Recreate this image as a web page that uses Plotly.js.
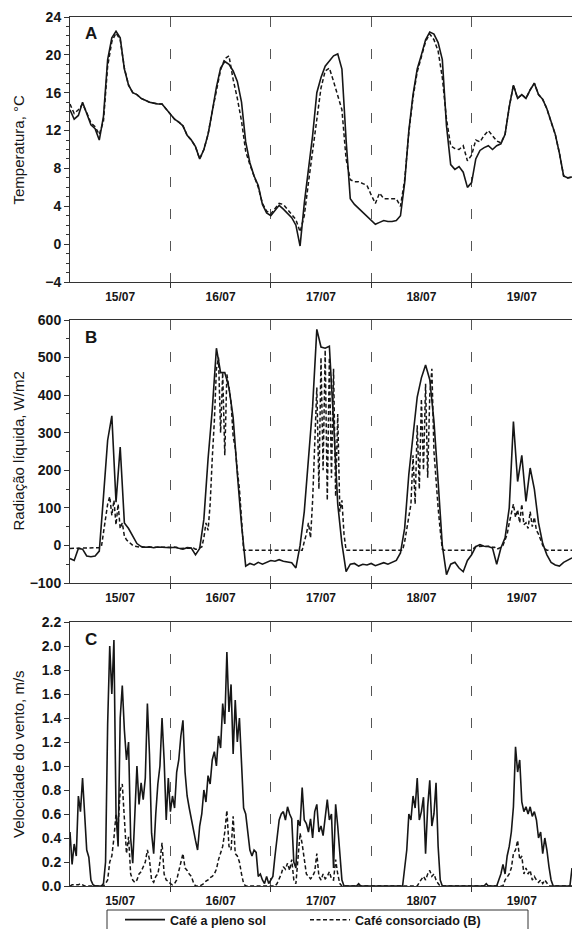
<!DOCTYPE html>
<html><head><meta charset="utf-8">
<script src="https://cdn.plot.ly/plotly-3.0.1.min.js"></script>
<style>html,body{margin:0;padding:0;background:#fff;}#chart{width:572px;height:929px;}</style>
</head><body><div id="chart"></div>
<script>
// ---------- DATA ----------
const dayLabels = ['15/07','16/07','17/07','18/07','19/07'];
const dayBreaks = [24,48,72,96];           // hours of midnight (dashed lines)
const seriesNames = ['Café a pleno sol','Café consorciado (B)'];
const panelLetters = ['A','B','C'];
const yTitles = ['Temperatura, °C','Radiação líquida, W/m2','Velocidade do vento, m/s'];

// hourly temperature (°C), hour 0 = 15/07 00:00
const tempSol = [
 14.2,13.2,13.6,15.0,13.8,12.6,12.2,11.0,13.5,19.5,21.8,22.5,21.8,18.5,16.8,16.0,15.8,15.4,15.2,15.0,14.9,14.8,14.8,14.3,
 13.8,13.2,12.9,12.5,11.5,11.0,10.3,9.0,10.0,11.6,14.0,16.6,18.6,19.3,19.0,18.3,17.2,15.0,10.8,8.6,7.2,6.2,4.2,3.3,
 3.0,3.5,4.1,3.7,3.2,2.8,2.0,-0.2,4.3,8.0,11.5,16.0,17.6,18.8,19.3,19.9,20.1,18.5,11.0,4.8,4.2,3.8,3.4,3.0,
 2.5,2.1,2.3,2.5,2.4,2.4,2.5,3.0,6.5,12.0,15.8,18.5,20.0,21.6,22.4,22.2,21.3,19.5,12.5,8.4,7.9,8.2,7.6,6.0,
 6.5,9.0,9.9,10.2,10.4,10.0,10.4,10.6,11.6,14.5,16.8,15.4,15.8,15.4,16.3,17.0,15.8,15.3,14.3,12.9,11.6,9.6,7.2,7.0,
 7.1];
const tempCon = [
 14.8,13.8,14.2,14.8,13.9,12.8,12.4,11.6,13.0,18.8,21.4,22.3,21.6,18.6,16.8,16.0,15.8,15.4,15.2,15.0,14.9,14.8,14.8,14.3,
 13.8,13.2,12.9,12.5,11.5,11.0,10.3,9.0,10.0,11.6,14.0,16.2,18.4,19.6,19.9,17.4,15.4,13.0,9.8,8.4,7.2,6.0,4.3,3.5,
 3.2,3.8,4.3,4.2,3.7,3.2,2.6,1.3,3.0,6.5,9.8,13.5,16.5,18.3,18.6,17.2,15.8,14.2,9.0,6.8,6.6,6.6,6.4,6.2,
 5.2,4.3,5.4,4.8,4.8,4.8,4.8,4.0,6.8,11.8,15.5,18.2,19.8,21.4,22.2,21.6,20.4,17.6,13.2,10.4,10.1,10.0,10.4,8.8,
 9.4,11.0,10.8,11.5,12.0,11.4,10.9,10.7,11.6,14.5,16.8,15.4,15.8,15.4,16.3,17.0,15.8,15.3,14.3,12.9,11.6,9.6,7.2,7.0,
 7.1];

// hourly net radiation, full sun (W/m2)
const radSol = [
 -35,-40,-8,-10,-28,-30,-28,-15,130,280,345,115,262,60,45,25,5,-3,-5,-4,-6,-4,-5,-5,
 -6,-5,-8,-10,-6,-7,-25,-8,70,230,360,525,460,460,420,340,190,55,-55,-48,-52,-45,-50,-46,
 -40,-42,-38,-42,-44,-46,-60,0,90,220,370,575,528,525,530,330,110,5,-70,-50,-48,-55,-50,-52,
 -48,-54,-50,-46,-50,-44,-40,-20,46,190,300,395,446,480,441,330,170,0,-78,-50,-45,-60,-70,-40,
 -25,-3,2,-2,-3,-7,-50,-7,20,100,330,170,240,117,206,150,60,5,-25,-45,-52,-55,-45,-38,
 -33];
// half-hourly net radiation, intercropped (W/m2)
const radCon = [
 -8,-8,-8,-8,-8,-8,-8,-8,-8,-8,-8,-8,-8,-8,-6,-4,
 30,70,110,130,80,120,55,110,45,60,25,15,10,5,0,-2,
 -4,-4,-5,-5,-5,-5,-4,-4,-6,-6,-4,-4,-5,-5,-5,-5,
 -6,-6,-5,-5,-8,-8,-8,-8,-6,-6,-7,-7,-10,-10,-6,-4,
 20,60,40,110,230,330,470,500,300,460,240,455,420,380,290,260,
 200,150,70,-13,-13,-13,-13,-13,-13,-13,-13,-13,-13,-13,-13,-13,
 -13,-13,-13,-13,-13,-13,-13,-13,-13,-13,-13,-13,-13,-13,-13,-13,
 10,30,60,20,120,300,420,150,500,200,520,120,500,180,470,130,
 350,90,120,30,-13,-13,-13,-13,-13,-13,-13,-13,-13,-13,-13,-13,
 -13,-13,-13,-13,-13,-13,-13,-13,-13,-13,-13,-13,-13,-13,-13,-13,
 10,40,70,110,240,110,320,150,390,200,430,180,400,470,250,160,
 100,40,-10,-13,-13,-13,-13,-13,-13,-13,-13,-13,-13,-13,-13,-13,
 -13,-8,-3,-3,-2,-2,-3,-3,-2,-2,-5,-5,-10,-8,-5,0,
 15,30,60,90,110,75,95,60,110,55,60,45,90,50,75,40,
 30,15,0,-8,-13,-13,-13,-13,-13,-13,-13,-13,-13,-13,-13,-13,
 -13];

// half-hourly wind speed (m/s)
const windSol = [
 0.45,0.18,0.35,0.25,0.75,0.62,0.90,0.62,0.30,0.24,0.05,0.01,0.00,0.00,0.00,0.00,0.02,0.20,1.35,2.00,
 1.60,2.05,0.60,0.33,1.40,1.67,1.30,1.05,1.20,0.40,0.19,0.58,1.00,0.68,0.86,0.72,0.90,1.52,1.10,0.44,
 0.27,0.60,0.85,1.00,1.40,1.05,0.55,0.90,
 0.62,0.75,0.65,0.95,1.05,1.25,1.38,0.95,0.75,0.65,0.55,0.45,0.38,0.30,0.50,0.60,0.80,0.70,0.92,0.85,
 1.05,1.12,1.00,1.25,1.15,1.52,1.35,1.95,1.45,1.68,1.10,1.55,1.20,1.40,1.00,0.65,0.60,0.45,0.30,0.25,
 0.30,0.28,0.08,0.10,0.05,0.02,0.08,0.02,
 0.05,0.08,0.25,0.40,0.55,0.60,0.62,0.55,0.66,0.60,0.56,0.20,0.15,0.55,0.50,0.82,0.55,0.52,0.45,0.56,
 0.40,0.62,0.68,0.45,0.50,0.42,0.60,0.72,0.55,0.60,0.15,0.68,0.50,0.25,0.05,0.00,0.00,0.00,0.00,0.00,
 0.00,0.00,0.02,0.00,0.00,0.00,0.00,0.00,
 0.00,0.00,0.00,0.00,0.00,0.00,0.00,0.00,0.00,0.00,0.00,0.00,0.00,0.00,0.00,0.00,0.15,0.30,0.60,0.55,
 0.75,0.65,0.90,0.55,0.62,0.74,0.27,0.66,0.88,0.50,0.60,0.86,0.33,0.05,0.00,0.00,0.00,0.00,0.00,0.00,
 0.00,0.00,0.00,0.00,0.00,0.00,0.00,0.00,
 0.00,0.00,0.00,0.00,0.00,0.00,0.00,0.02,0.00,0.00,0.00,0.00,0.00,0.05,0.10,0.18,0.10,0.25,0.33,0.45,
 0.66,1.16,0.95,1.05,0.70,0.62,0.66,0.60,0.66,0.58,0.62,0.55,0.40,0.45,0.27,0.40,0.30,0.16,0.05,0.00,
 0.00,0.00,0.00,0.00,0.00,0.00,0.00,0.00,
 0.15];
const windCon = [
 0.00,0.01,0.01,0.01,0.01,0.02,0.01,0.00,0.00,0.00,0.00,0.00,0.00,0.00,0.00,0.00,0.00,0.02,0.05,0.20,
 0.25,0.40,0.60,0.50,0.80,0.85,0.55,0.27,0.41,0.10,0.05,0.03,0.05,0.10,0.12,0.16,0.20,0.30,0.22,0.05,
 0.03,0.08,0.10,0.20,0.36,0.10,0.05,0.04,
 0.02,0.01,0.02,0.05,0.12,0.20,0.27,0.15,0.13,0.10,0.08,0.03,0.00,0.00,0.00,0.01,0.02,0.04,0.05,0.07,
 0.08,0.10,0.14,0.22,0.28,0.33,0.45,0.63,0.33,0.30,0.58,0.27,0.25,0.20,0.10,0.02,0.00,0.00,0.00,0.00,
 0.00,0.00,0.00,0.00,0.00,0.00,0.00,0.00,
 0.00,0.00,0.00,0.02,0.06,0.10,0.16,0.14,0.19,0.13,0.22,0.05,0.02,0.20,0.44,0.35,0.22,0.10,0.08,0.06,
 0.08,0.12,0.27,0.08,0.05,0.10,0.06,0.08,0.12,0.06,0.05,0.22,0.10,0.02,0.00,0.00,0.00,0.00,0.00,0.00,
 0.00,0.00,0.00,0.00,0.00,0.00,0.00,0.00,
 0.00,0.00,0.00,0.00,0.00,0.00,0.00,0.00,0.00,0.00,0.00,0.00,0.00,0.00,0.00,0.00,0.00,0.00,0.00,0.00,
 0.00,0.00,0.00,0.03,0.06,0.08,0.05,0.10,0.13,0.08,0.10,0.05,0.02,0.00,0.00,0.00,0.00,0.00,0.00,0.00,
 0.00,0.00,0.00,0.00,0.00,0.00,0.00,0.00,
 0.00,0.00,0.00,0.00,0.00,0.00,0.00,0.00,0.00,0.00,0.00,0.00,0.00,0.00,0.00,0.00,0.05,0.08,0.10,0.15,
 0.27,0.30,0.38,0.22,0.25,0.10,0.15,0.10,0.13,0.05,0.08,0.05,0.03,0.05,0.02,0.05,0.02,0.00,0.00,0.00,
 0.00,0.00,0.00,0.00,0.00,0.00,0.00,0.00,
 0.00];

// ---------- CHART ----------
const FONT = 'Liberation Sans, Arial, sans-serif';
const INK = '#161616';
const hoursOf = (arr, step) => arr.map((_, i) => i * step);

const solidLine = {color: INK, width: 1.6};
const dashLine = {color: INK, width: 1.5, dash: '4px,2.5px'};

const traces = [
  {x: hoursOf(tempSol, 1), y: tempSol, xaxis: 'x', yaxis: 'y', mode: 'lines', name: seriesNames[0], line: solidLine},
  {x: hoursOf(tempCon, 1), y: tempCon, xaxis: 'x', yaxis: 'y', mode: 'lines', name: seriesNames[1], line: dashLine},
  {x: hoursOf(radSol, 1), y: radSol, xaxis: 'x2', yaxis: 'y2', mode: 'lines', name: seriesNames[0], line: solidLine, showlegend: false},
  {x: hoursOf(radCon, 0.5), y: radCon, xaxis: 'x2', yaxis: 'y2', mode: 'lines', name: seriesNames[1], line: dashLine, showlegend: false},
  {x: hoursOf(windSol, 0.5), y: windSol, xaxis: 'x3', yaxis: 'y3', mode: 'lines', name: seriesNames[0], line: solidLine, showlegend: false},
  {x: hoursOf(windCon, 0.5), y: windCon, xaxis: 'x3', yaxis: 'y3', mode: 'lines', name: seriesNames[1], line: dashLine, showlegend: false}
];

const H = 929, W = 572, L = 70;
const PW = W - L;
const dom = (top, bottom) => [1 - bottom / H, 1 - top / H];
const panels = [[17, 282], [320, 583], [622, 886]];

function xAxis(anchor) {
  return {
    anchor: anchor, domain: [0, 1], range: [0, 120], type: 'linear',
    tickmode: 'array', tickvals: dayLabels.map((_, i) => 12 + 24 * i), ticktext: dayLabels,
    ticks: '', showgrid: false, zeroline: false, ticklabelstandoff: 4,
    showline: true, linecolor: '#333', linewidth: 1, mirror: true,
    tickfont: {family: FONT, size: 12, color: INK, weight: 'bold'},
    minor: {tickmode: 'array', tickvals: dayBreaks, ticks: 'outside', ticklen: 5, tickcolor: '#333',
            showgrid: true, gridcolor: '#555', gridwidth: 1, griddash: '10px,22px'}
  };
}
function yAxis(anchor, d, range, dtick, minorDtick, fmt) {
  const a = {
    anchor: anchor, domain: d, range: range, tick0: 0, dtick: dtick,
    ticks: 'outside', ticklen: 5, tickcolor: '#333', showgrid: false, zeroline: false,
    showline: true, linecolor: '#333', linewidth: 1,
    tickfont: {family: FONT, size: 14, color: INK, weight: 'bold'}
  };
  if (fmt) a.tickformat = fmt;
  if (minorDtick) a.minor = {dtick: minorDtick, tick0: 0, ticks: 'outside', ticklen: 3, tickcolor: '#333', showgrid: false};
  return a;
}

const annotations = [];
panels.forEach((p, i) => {
  const d = dom(p[0], p[1]);
  annotations.push({xref: 'paper', yref: 'paper', x: (83 - L) / PW, y: 1 - (p[0] + 17) / H,
    xanchor: 'left', yanchor: 'middle', showarrow: false, text: panelLetters[i],
    font: {family: FONT, size: 17, color: INK, weight: 'bold'}});
  annotations.push({xref: 'paper', yref: 'paper', x: (18 - L) / PW, y: (d[0] + d[1]) / 2,
    xanchor: 'center', yanchor: 'middle', showarrow: false, textangle: -90, text: yTitles[i],
    font: {family: FONT, size: 15, color: INK}});
});

const layout = {
  width: W, height: H,
  margin: {l: L, r: 0, t: 0, b: 0, autoexpand: false},
  paper_bgcolor: '#fff', plot_bgcolor: '#fff',
  showlegend: true,
  legend: {orientation: 'h', x: (120 - L) / PW, xanchor: 'left', y: 1 - 905 / H, yanchor: 'top',
           borderwidth: 0, bgcolor: 'rgba(0,0,0,0)',
           entrywidth: 130, entrywidthmode: 'pixels', itemwidth: 40,
           font: {family: FONT, size: 12.5, color: INK, weight: 'bold'}},
  shapes: [{type: 'rect', xref: 'paper', yref: 'paper', x0: (107 - L) / PW, x1: (528 - L) / PW,
            y0: 1 - 945 / H, y1: 1 - 910 / H, line: {color: '#333', width: 1}, fillcolor: 'rgba(0,0,0,0)', layer: 'below'}],
  xaxis: xAxis('y'), xaxis2: xAxis('y2'), xaxis3: xAxis('y3'),
  yaxis: yAxis('x', dom(17, 282), [-4, 24], 4, 1),
  yaxis2: yAxis('x2', dom(320, 583), [-100, 600], 100, 50),
  yaxis3: yAxis('x3', dom(622, 886), [0, 2.2], 0.2, 0, '.1f'),
  annotations: annotations
};

Plotly.newPlot('chart', traces, layout, {displayModeBar: false, staticPlot: true});
</script></body></html>
